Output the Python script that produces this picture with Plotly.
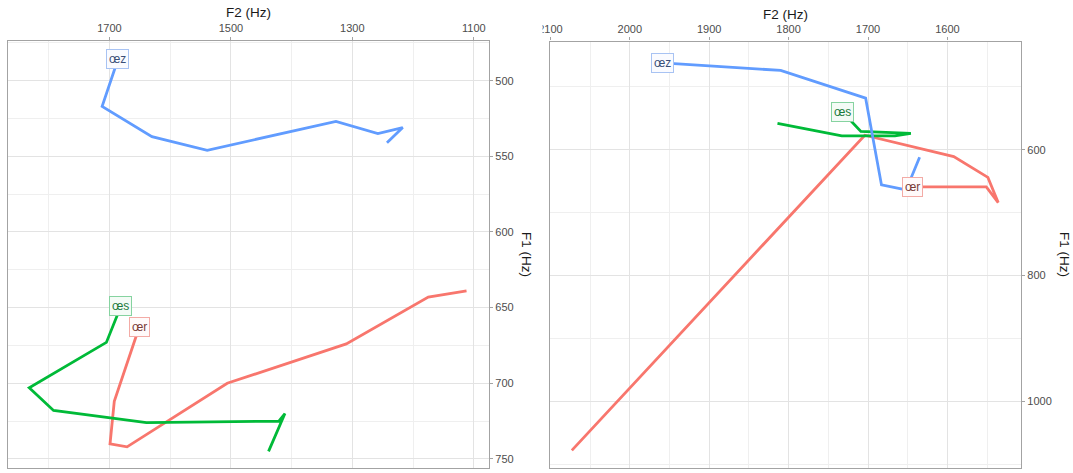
import plotly.graph_objects as go

# Formant trajectories (F2, F1 in Hz), two speakers / conditions
vowels = ["œr", "œs", "œz"]
colors = {"œr": "#F8766D", "œs": "#00BA38", "œz": "#619CFF"}
label_text = {"œr": "#7a3b38", "œs": "#1c7a3c", "œz": "#3b4f78"}
label_border = {"œr": "#f3aba6", "œs": "#86d3a0", "œz": "#a8c3f3"}
label_fill = {"œr": "#fffafa", "œs": "#f4fbf6", "œz": "#fafbff"}

# left panel
left_oer_f2 = [1651, 1692, 1699, 1671, 1506, 1310, 1175, 1112]
left_oer_f1 = [663, 712, 740, 742, 700, 674, 643, 639]
left_oes_f2 = [1681, 1705, 1832, 1792, 1639, 1421, 1411, 1438]
left_oes_f1 = [649, 673, 703, 718, 726, 725, 720, 745]
left_oez_f2 = [1686, 1712, 1630, 1539, 1327, 1258, 1217, 1243]
left_oez_f1 = [486, 517, 537, 546, 527, 535, 531, 541]

# right panel
right_oer_f2 = [1644, 1551, 1536, 1549, 1592, 1704, 2073]
right_oer_f1 = [659, 659, 684, 644, 611, 577, 1078]
right_oes_f2 = [1732, 1709, 1646, 1666, 1733, 1814]
right_oes_f1 = [540, 571, 574, 578, 578, 558]
right_oez_f2 = [1959, 1810, 1703, 1683, 1652, 1635]
right_oez_f1 = [462, 474, 518, 656, 664, 612]

left = {"œr": (left_oer_f2, left_oer_f1),
        "œs": (left_oes_f2, left_oes_f1),
        "œz": (left_oez_f2, left_oez_f1)}
right = {"œr": (right_oer_f2, right_oer_f1),
         "œs": (right_oes_f2, right_oes_f1),
         "œz": (right_oez_f2, right_oez_f1)}

W, H = 1073, 473
fig = go.Figure()

for panel, (xa, ya) in ((left, ("x", "y")), (right, ("x2", "y2"))):
    for v in vowels:
        f2, f1 = panel[v]
        fig.add_trace(go.Scatter(
            x=f2, y=f1, mode="lines", xaxis=xa, yaxis=ya,
            line=dict(color=colors[v], width=2.8),
            showlegend=False, hoverinfo="skip"))

annotations = []
for panel, (xr, yr) in ((left, ("x", "y")), (right, ("x2", "y2"))):
    for v in vowels:
        f2, f1 = panel[v]
        annotations.append(dict(
            x=f2[0], y=f1[0], xref=xr, yref=yr, text=v, showarrow=False,
            font=dict(family="Liberation Sans, Arial", size=12, color=label_text[v]),
            bgcolor=label_fill[v], bordercolor=label_border[v],
            borderwidth=1, borderpad=2))

title_font = dict(family="Liberation Sans, Arial", size=13.5, color="#1a1a1a")
# axis titles
annotations += [
    dict(x=248 / W, y=1 - 13 / H, xref="paper", yref="paper", text="F2 (Hz)",
         xanchor="center", yanchor="middle", showarrow=False, font=title_font),
    dict(x=785 / W, y=1 - 14 / H, xref="paper", yref="paper", text="F2 (Hz)",
         xanchor="center", yanchor="middle", showarrow=False, font=title_font),
    dict(x=527 / W, y=1 - 254 / H, xref="paper", yref="paper", text="F1 (Hz)",
         xanchor="center", yanchor="middle", showarrow=False, textangle=90,
         font=title_font),
    dict(x=1065 / W, y=1 - 254 / H, xref="paper", yref="paper", text="F1 (Hz)",
         xanchor="center", yanchor="middle", showarrow=False, textangle=90,
         font=title_font),
]

tick_font = dict(family="Liberation Sans, Arial", size=11, color="#4d4d4d")
frame = "#a3a3a3"
grid = "#e3e3e3"
minor_grid = "#efefef"


def xaxis_style(domain, rng, dtick, anchor):
    return dict(domain=domain, range=rng, side="top", anchor=anchor,
                automargin=False,
                tickmode="linear", tick0=1100, dtick=dtick,
                ticks="outside", ticklen=3, tickcolor=frame, tickwidth=1,
                tickfont=tick_font, showline=True, mirror=True,
                linecolor=frame, linewidth=1.2, showgrid=True,
                gridcolor=grid, gridwidth=1, zeroline=False,
                minor=dict(dtick=dtick / 2, tick0=1100, showgrid=True,
                           gridcolor=minor_grid, gridwidth=0.8, ticks=""))


def yaxis_style(domain, rng, dtick, anchor):
    return dict(domain=domain, range=rng, side="right", anchor=anchor,
                automargin=False,
                tickmode="linear", tick0=0, dtick=dtick,
                ticks="outside", ticklen=3, tickcolor=frame, tickwidth=1,
                tickfont=tick_font, showline=True, mirror=True,
                linecolor=frame, linewidth=1.2, showgrid=True,
                gridcolor=grid, gridwidth=1, zeroline=False,
                minor=dict(dtick=dtick / 2, tick0=0, showgrid=True,
                           gridcolor=minor_grid, gridwidth=0.8, ticks=""))


fig.update_layout(
    width=W, height=H, autosize=False,
    margin=dict(l=0, r=0, t=0, b=0, pad=0, autoexpand=False),
    paper_bgcolor="white", plot_bgcolor="white",
    xaxis=xaxis_style([8 / W, 489 / W], [1867, 1075], 200, "y"),
    yaxis=yaxis_style([1 - 468 / H, 1 - 40.7 / H], [756, 473.6], 50, "x"),
    xaxis2=xaxis_style([550 / W, 1021 / W], [2100.5, 1507.3], 100, "y2"),
    yaxis2=yaxis_style([1 - 468 / H, 1 - 41.5 / H], [1106, 428], 200, "x2"),
    annotations=annotations,
    # the right-hand figure is cropped at its left edge, cutting its first tick label
    shapes=[dict(type="rect", xref="paper", yref="paper", layer="above",
                 x0=526 / W, x1=542.5 / W, y0=1 - 37 / H, y1=1 - 18 / H,
                 fillcolor="white", line=dict(width=0))],
)

fig.write_html("out.html")
